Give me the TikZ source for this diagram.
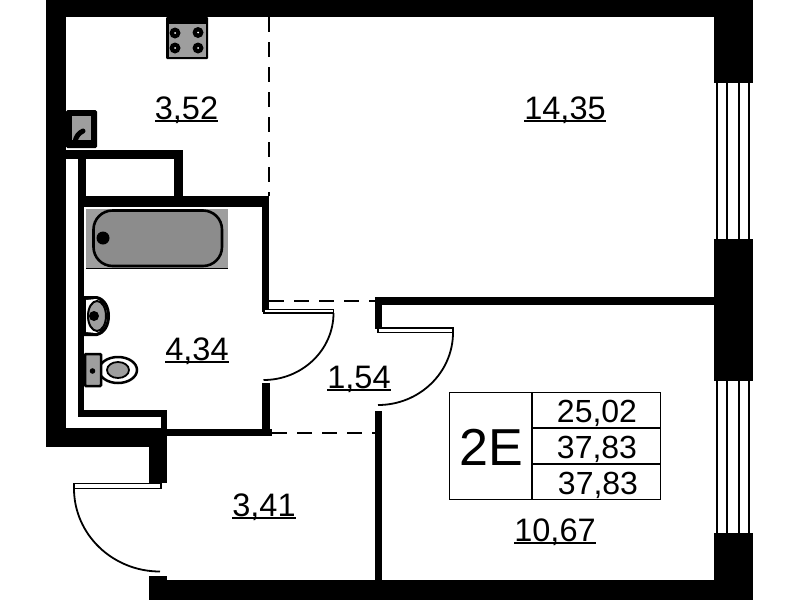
\documentclass[tikz,border=0pt]{standalone}
\usepackage{fontspec}
\setmainfont{Liberation Sans}
\newcommand\ulbl[1]{\setbox0\hbox{#1}\rlap{\rule[-3pt]{\wd0}{1.7pt}}\box0}
\definecolor{fixgray}{gray}{0.62}
\definecolor{bathgray}{gray}{0.55}
\tikzset{
  x=1pt,y=-1pt,
  wall/.style={fill=black,draw=none},
  leaf/.style={draw=black,line width=1.4pt,fill=white},
  swing/.style={draw=black,line width=1.8pt},
  dashline/.style={draw=black,line width=1.3pt,dash pattern=on 15pt off 10pt},
  pane/.style={draw=black,line width=1.9pt},
  room/.style={font=\fontsize{32.5}{32.5}\selectfont,anchor=base,inner sep=0pt},
  tabnum/.style={font=\fontsize{32}{32}\selectfont,anchor=base,inner sep=0pt},
  tabline/.style={draw=black,line width=1.8pt},
  fixture/.style={fill=fixgray,draw=black,line width=2.5pt},
  burner/.style={fill=black,draw=none},
}
\begin{document}
\begin{tikzpicture}
\useasboundingbox (0,0) rectangle (799,600);
% walls
\foreach \a/\b/\c/\d in {46/0/753/17, 46/0/66/447, 714/0/753/83, 714/239/753/381, 714/533/753/600,
  149/580/753/600, 149/576/167/581, 46/428/167/447, 149/447/167/483, 161/410/167/447, 78/410/167/417,
  66/150/183/158.5, 174/150/183/207, 78/150/86/207, 78/196/269/207, 78/207/84/417,
  262/196/269/312, 262/383/270/436, 167/429/272/436,
  375/297/715/305, 375/297/382/329, 375/411/382/580}
  \fill[wall] (\a,\b) rectangle (\c,\d);
% windows
\foreach \y/\z in {83/239, 381/533}
  \foreach \x in {717,727,739,749}
    \draw[pane] (\x,\y) -- (\x,\z);
% dashed openings
\draw[dashline] (269,17) -- (269,196);
\draw[dashline] (269,301) -- (375,301);
\draw[dashline] (272,433) -- (375,433);
% doors
\draw[leaf] (74,483.5) rectangle (161,488.5);
\draw[swing] (74,488.5) arc[start angle=180,end angle=270,x radius=86,y radius=-83];
\draw[leaf] (264,309.5) rectangle (333.5,313);
\draw[swing] (333.5,313) arc[start angle=0,end angle=-90,x radius=70,y radius=-67];
\draw[leaf] (378,328) rectangle (453,332.5);
\draw[swing] (453,332.5) arc[start angle=0,end angle=-90,x radius=75,y radius=-72.5];
% stove
\fill[black,rounded corners=1pt] (166,17) rectangle (208,59);
\fill[fixgray] (168.5,24) rectangle (205.5,56.5);
\foreach \x/\y in {175/33,198/32.5,175/48,198/48}{
  \fill[burner] (\x,\y) circle[radius=5.5];
  \fill[white] (\x,\y) circle[radius=1];
}
% kitchen sink
\fill[black,rounded corners=1.5pt] (66,110) rectangle (97,148);
\fill[fixgray] (72,116) rectangle (91,140);
\draw[black,line width=5pt,line cap=round] (75,142) .. controls (76,136) and (79,133) .. (83,131);
% bath
\fill[fixgray] (86,209) rectangle (228,268);
\draw[black,line width=1.5pt] (86,268.5) -- (228,268.5);
\draw[black,line width=2.6pt,fill=bathgray,rounded corners=19pt] (93.5,210.5) rectangle (222,266);
\fill[black] (103,238) circle[radius=6.5];
% washbasin
\fill[black] (84,296) -- (97,296) .. controls (106,298) and (110,307) .. (110,316) .. controls (110,325) and (106,334) .. (97,336) -- (84,336) -- cycle;
\fill[white] (86,300) -- (96,299) .. controls (104,302) and (107,309) .. (107,316) .. controls (107,323) and (104,330) .. (96,333) -- (86,332) -- cycle;
\draw[black,line width=2pt,fill=fixgray] (97,316) ellipse[x radius=9,y radius=15];
\fill[black] (94,316) circle[radius=5];
% toilet
\draw[black,line width=2.5pt,fill=white] (118,370) ellipse[x radius=19,y radius=13];
\draw[black,line width=1.8pt,fill=fixgray] (118,370) ellipse[x radius=11,y radius=8];
\draw[fixture,rounded corners=1pt] (85,354) rectangle (101,386);
\fill[black] (92.5,371) circle[radius=2.8];
% table
\draw[tabline] (449.5,392.5) rectangle (660.5,499.5);
\draw[tabline] (532,392.5) -- (532,499.5);
\draw[tabline] (532,428) -- (660.5,428);
\draw[tabline] (532,464) -- (660.5,464);
% labels
\node[room] (kitchen) at (186.5,119) {\ulbl{3,52}};
\node[room] (living) at (565,119) {\ulbl{14,35}};
\node[room] (bath) at (197,360) {\ulbl{4,34}};
\node[room] (corridor) at (359,388) {\ulbl{1,54}};
\node[room] (hall) at (264,516) {\ulbl{3,41}};
\node[room] (bedroom) at (555,541) {\ulbl{10,67}};
\node[font=\fontsize{52}{52}\selectfont,anchor=base,inner sep=0pt] (type) at (491,465) {2E};
\node[tabnum] (vala) at (597,422) {25,02};
\node[tabnum] (valb) at (597,458) {37,83};
\node[tabnum] (valc) at (598,494) {37,83};
\end{tikzpicture}
\end{document}
